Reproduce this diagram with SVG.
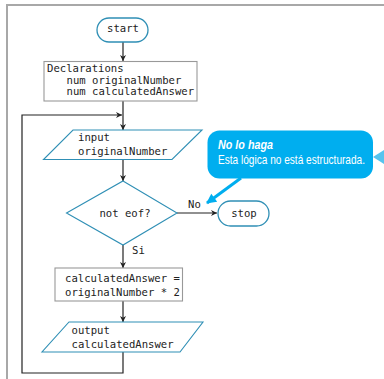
<svg xmlns="http://www.w3.org/2000/svg" width="384" height="379" viewBox="0 0 384 379">
  <style>
    .code { font-family: "DejaVu Sans Mono", "Liberation Mono", monospace; font-size: 10.6px; fill: #222; }
    .term { fill: #fff; stroke: #2f8fb5; stroke-width: 1.3; }
    .io { fill: #fff; stroke: #2f8fb5; stroke-width: 1.1; }
    .proc { fill: #fff; stroke: #999; stroke-width: 1.1; }
    .wire { fill: none; stroke: #222; stroke-width: 1.2; }
    .frame { fill: none; stroke: #a8a8a8; stroke-width: 2; }
    .note { font-family: "Liberation Sans", Arial, sans-serif; fill: #fff; font-size: 12px; }
  </style>
  <defs>
    <marker id="arr" viewBox="0 0 10 10" refX="10" refY="5" markerWidth="7" markerHeight="6" markerUnits="userSpaceOnUse" orient="auto">
      <path d="M0,0 L10,5 L0,10 L3,5 Z" fill="#222"/>
    </marker>
    <marker id="blueArr" viewBox="0 0 10 10" refX="9" refY="5" markerWidth="12" markerHeight="10" markerUnits="userSpaceOnUse" orient="auto">
      <path d="M0,0 L10,5 L0,10 Z" fill="#00aeef"/>
    </marker>
  </defs>

  <!-- page frame -->
  <path class="frame" d="M7,379 L7,5 L384,5"/>

  <!-- connectors -->
  <g id="connectors">
    <line class="wire" x1="123" y1="42" x2="123" y2="61" marker-end="url(#arr)"/>
    <line class="wire" x1="123" y1="101" x2="123" y2="130" marker-end="url(#arr)"/>
    <line class="wire" x1="123" y1="159" x2="123" y2="181" marker-end="url(#arr)"/>
    <line class="wire" x1="177" y1="213" x2="217" y2="213" marker-end="url(#arr)"/>
    <line class="wire" x1="123" y1="245" x2="123" y2="268" marker-end="url(#arr)"/>
    <line class="wire" x1="123" y1="301" x2="123" y2="322" marker-end="url(#arr)"/>
    <polyline class="wire" points="123,352 123,373 22,373 22,115 122,115" marker-end="url(#arr)"/>
    <text class="code" x="188" y="208">No</text>
    <text class="code" x="132" y="254">Si</text>
  </g>

  <g id="start">
    <rect class="term" x="97" y="18" width="51" height="24" rx="12"/>
    <text class="code" x="123" y="32" text-anchor="middle">start</text>
  </g>

  <g id="declarations">
    <rect class="proc" x="44" y="61.5" width="153" height="39.5"/>
    <text class="code" x="47" y="72">Declarations</text>
    <text class="code" x="66.5" y="83.5">num originalNumber</text>
    <text class="code" x="66.5" y="95">num calculatedAnswer</text>
  </g>

  <g id="input">
    <polygon class="io" points="73,130 202,130 172,159.5 43.5,159.5"/>
    <text class="code" x="78" y="141">input</text>
    <text class="code" x="78" y="155">originalNumber</text>
  </g>

  <g id="decision">
    <polygon class="io" points="123,181 177,213 123,245 66.5,213"/>
    <text class="code" x="125" y="217" text-anchor="middle">not eof?</text>
  </g>

  <g id="stop">
    <rect class="term" x="218" y="201" width="51" height="25" rx="12.5"/>
    <text class="code" x="244" y="217" text-anchor="middle">stop</text>
  </g>

  <g id="calculate">
    <rect class="proc" x="55" y="268" width="127.5" height="33"/>
    <text class="code" x="65" y="282">calculatedAnswer =</text>
    <text class="code" x="65" y="296">originalNumber * 2</text>
  </g>

  <g id="output">
    <polygon class="io" points="69,322 203,322 180,352 42,352"/>
    <text class="code" x="71.5" y="333.5">output</text>
    <text class="code" x="71.5" y="347.5">calculatedAnswer</text>
  </g>

  <!-- warning callout; text squeezed horizontally to a condensed face -->
  <g id="callout">
    <rect x="207.5" y="130.5" width="165.5" height="48" rx="12" fill="#00aeef"/>
    <line x1="241" y1="178" x2="207" y2="203" stroke="#00aeef" stroke-width="3" marker-end="url(#blueArr)"/>
    <g transform="translate(218,0) scale(0.84,1)">
      <text class="note" x="0" y="149" font-weight="bold" font-style="italic" textLength="65.5" lengthAdjust="spacingAndGlyphs">No lo haga</text>
      <text class="note" x="0" y="164.5" textLength="175" lengthAdjust="spacingAndGlyphs">Esta lógica no está estructurada.</text>
    </g>
  </g>

  <!-- edge of a neighbouring callout pointer -->
  <polygon points="373,157 384,150 384,164" fill="#55c4ee"/>
</svg>
